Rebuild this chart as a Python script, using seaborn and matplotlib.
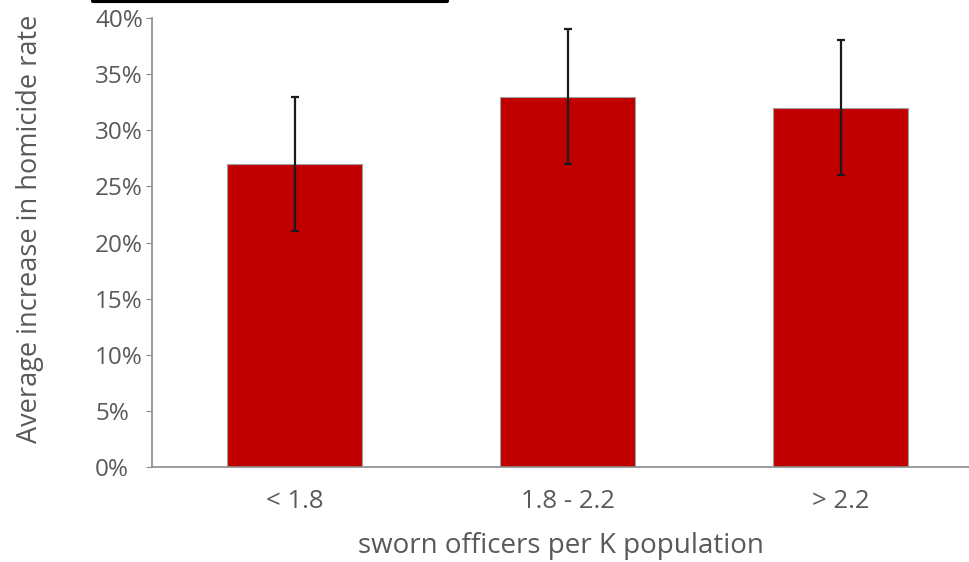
import pandas as pd
import seaborn as sns
import matplotlib.pyplot as plt
from matplotlib.lines import Line2D
from matplotlib.ticker import PercentFormatter

# data
categories = ["< 1.8", "1.8 - 2.2", "> 2.2"]
avg_increase = [27, 33, 32]
err = [6, 6, 6]

df = pd.DataFrame({"group": categories, "increase": avg_increase})

sns.set_style("white")
plt.rcParams['font.family'] = ['Open Sans', 'DejaVu Sans']

fig = plt.figure(figsize=(9.69, 5.62), dpi=100)
ax = fig.add_axes([0.157, 0.169, 0.843, 0.799])

sns.barplot(data=df, x="group", y="increase", color="#C00000", saturation=1,
            width=0.495, edgecolor="#a0a0a0", linewidth=0.8, ax=ax)
ax.errorbar(range(len(categories)), avg_increase, yerr=err, fmt="none",
            ecolor="#1a1a1a", elinewidth=1.6, capsize=3.2, capthick=1.6)

ax.set_ylim(0, 40)
ax.set_xlim(-0.522, 2.47)
ax.set_yticks(range(0, 41, 5))
ax.yaxis.set_major_formatter(PercentFormatter(decimals=0))

grey = "#595959"
for s in ["top", "right"]:
    ax.spines[s].set_visible(False)
for s in ["left", "bottom"]:
    ax.spines[s].set_color("#8c8c8c")
    ax.spines[s].set_linewidth(1.2)

ax.tick_params(axis="y", left=True, length=4, width=0.8, color="#8c8c8c",
               pad=37, labelsize=17.5, labelcolor=grey)
for lbl in ax.get_yticklabels():
    lbl.set_horizontalalignment("left")
ax.tick_params(axis="x", bottom=False, pad=12, labelsize=18.5, labelcolor=grey)

ax.set_xlabel("sworn officers per K population", fontsize=20, color=grey)
ax.set_ylabel("Average increase in homicide rate", fontsize=19.5, color=grey)
ax.yaxis.set_label_coords(-0.132, 0.53)
ax.xaxis.set_label_coords(0.5, -0.145)

# cut-off title underline at the top edge
fig.add_artist(Line2D([0.096, 0.461], [0.998, 0.998], color="black", linewidth=3,
                      transform=fig.transFigure))

fig.savefig("out.png", dpi=100)
